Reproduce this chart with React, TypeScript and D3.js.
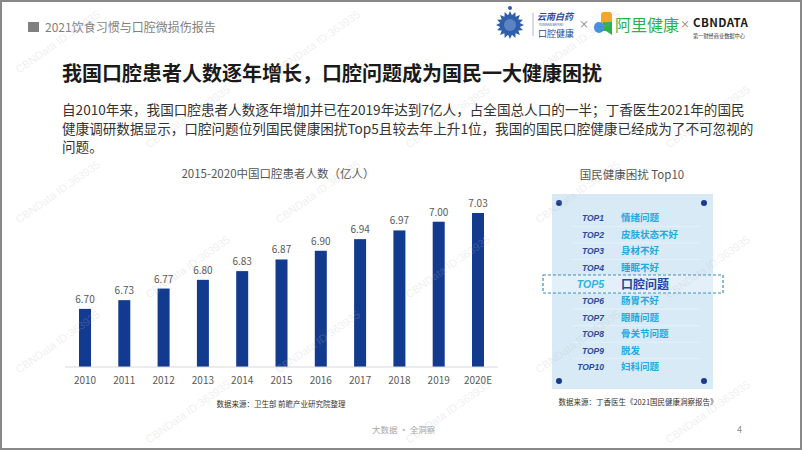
import * as d3 from "d3";

const years = ["2010", "2011", "2012", "2013", "2014", "2015", "2016", "2017", "2018", "2019", "2020E"];
const patients = [6.7, 6.73, 6.77, 6.8, 6.83, 6.87, 6.9, 6.94, 6.97, 7.0, 7.03];

const topRanks = ["TOP1", "TOP2", "TOP3", "TOP4", "TOP5", "TOP6", "TOP7", "TOP8", "TOP9", "TOP10"];
const topIssues = ["情绪问题", "皮肤状态不好", "身材不好", "睡眠不好", "口腔问题", "肠胃不好", "眼睛问题", "骨关节问题", "脱发", "妇科问题"];
const highlightRank = "TOP5";

const paragraph = [
    "自2010年来，我国口腔患者人数逐年增加并已在2019年达到7亿人，占全国总人口的一半；丁香医生2021年的国民",
    "健康调研数据显示，口腔问题位列国民健康困扰Top5且较去年上升1位，我国的国民口腔健康已经成为了不可忽视的",
    "问题。",
];

const W = 802;
const H = 451;
const FONT = "'Noto Sans CJK SC', 'Noto Sans', sans-serif";
const NAVY = "#123a8f";

const App = () => {
    // bar chart scales
    const x = d3.scalePoint().domain(years).range([85, 478]);
    const y = d3.scaleLinear().domain([6.5, 7.03]).range([367, 213]);
    const barW = 12;

    // top10 list
    const rowY = d3.scalePoint().domain(topRanks).range([218, 367]);

    // logo star emblem
    const starPts = d3.range(32).map((i) => {
        const a = (i / 32) * Math.PI * 2;
        const r = i % 2 === 0 ? 14 : 10;
        return [510 + r * Math.cos(a), 25 + r * Math.sin(a)];
    });

    // watermark grid (kept inside the slide)
    const marks: [number, number][] = [];
    [45, 120, 195, 270, 345, 415].forEach((wy, ri) => {
        const xs = ri % 2 === 0 ? [60, 320, 580] : [190, 450, 710];
        xs.forEach((wx) => marks.push([wx, wy]));
    });

    return (
        <div style={{ position: "absolute", left: 0, top: 0 }}>
            <svg width={W} height={H} style={{ display: "block", fontFamily: FONT }}>
                <rect x={0} y={0} width={W} height={H} fill="#fff" />

                {/* header */}
                <rect x={28} y={22} width={11} height={10} fill="#808080" />
                <text x={45} y={31.5} fontSize={12} fill="#7f7f7f">2021饮食习惯与口腔微损伤报告</text>

                {/* logos */}
                <polygon points={starPts.map((p) => p.join(",")).join(" ")} fill="#2f5fa8" />
                <circle cx={510} cy={25} r={6} fill="#5c84c4" />
                <circle cx={510} cy={8} r={2} fill="#2f5fa8" />
                <line x1={533} x2={533} y1={13} y2={36} stroke="#9aa6c0" strokeWidth={0.8} />
                <text x={537} y={19.5} fontSize={9} fill="#2b4b9b" fontWeight="bold" fontStyle="italic">云南白药</text>
                <text x={539} y={25.5} fontSize={3.2} fill="#2b4b9b">YUNNAN BAIYAO</text>
                <text x={538} y={37} fontSize={9} fill="#2b4b9b">口腔健康</text>
                <text x={584} y={28} fontSize={10} fill="#777" textAnchor="middle">×</text>
                <rect x={601} y={12} width={11} height={13} rx={3} fill="#f5a623" />
                <rect x={594} y={22} width={10} height={11} rx={5} fill="#3f8fe0" />
                <path d="M603,22 H612 V35 L606,31 H603 Z" fill="#2fb04d" />
                <text x={615} y={31} fontSize={16} fill="#2bb24c">阿里健康</text>
                <text x={685} y={28} fontSize={10} fill="#777" textAnchor="middle">×</text>
                <text x={693} y={27} fontSize={11.5} fontWeight="bold" fill="#1a1a1a" letterSpacing={0.4}>CBNDATA</text>
                <text x={693} y={38} fontSize={5.2} fill="#333">第一财经商业数据中心</text>

                {/* title & paragraph */}
                <text x={62} y={81} fontSize={20} fontWeight="bold" fill="#1a1a1a">
                    我国口腔患者人数逐年增长，口腔问题成为国民一大健康困扰
                </text>
                {paragraph.map((line, i) => (
                    <text key={i} x={62} y={115 + i * 18.6} fontSize={13.6} fill="#333">{line}</text>
                ))}

                {/* bar chart */}
                <text x={278} y={178} fontSize={11.5} fill="#555" textAnchor="middle">
                    2015-2020中国口腔患者人数（亿人）
                </text>
                {patients.map((v, i) => (
                    <g key={years[i]}>
                        <rect
                            x={x(years[i])! - barW / 2}
                            y={y(v)}
                            width={barW}
                            height={y(6.5) - y(v)}
                            fill={NAVY}
                        />
                        <text x={x(years[i])} y={y(v) - 6} fontSize={10} fill="#595959" textAnchor="middle">
                            {v.toFixed(2)}
                        </text>
                        <text x={x(years[i])} y={384} fontSize={10} fill="#595959" textAnchor="middle">
                            {years[i]}
                        </text>
                    </g>
                ))}
                <line x1={65} x2={498} y1={y(6.5)} y2={y(6.5)} stroke="#d9d9d9" strokeWidth={1} />
                <text x={281} y={407} fontSize={7.5} fill="#333" textAnchor="middle">
                    数据来源：卫生部 前瞻产业研究院整理
                </text>

                {/* top10 panel */}
                <text x={632} y={179} fontSize={11.5} fill="#555" textAnchor="middle">国民健康困扰 Top10</text>
                <rect x={552} y={194} width={161} height={195} fill="#d8eaf6" />
                {topRanks.slice(0, -1).map((r) => (
                    <line key={r} x1={572} x2={700} y1={rowY(r)! + 8.3} y2={rowY(r)! + 8.3} stroke="#fff" strokeOpacity={0.55} strokeWidth={0.7} />
                ))}
                {[[559, 203], [704, 203], [559, 381], [704, 381]].map(([cx, cy], i) => (
                    <circle key={i} cx={cx} cy={cy} r={3} fill="#1b3b8a" />
                ))}
                <rect x={543} y={275} width={180} height={18} fill="#fff" fillOpacity={0.3} stroke="#3d8cc4" strokeWidth={1.2} strokeDasharray="3,2" />
                {topRanks.map((r, i) => {
                    const hi = r === highlightRank;
                    return (
                        <g key={r}>
                            <text
                                x={604}
                                y={rowY(r)! + (hi ? 3.8 : 3.2)}
                                fontSize={hi ? 10.5 : 8.5}
                                fontWeight="bold"
                                fontStyle="italic"
                                fontFamily="'Liberation Sans', Arial, sans-serif"
                                fill={hi ? "#2bb5e0" : "#2c4a9a"}
                                textAnchor="end"
                            >
                                {r}
                            </text>
                            <text
                                x={621}
                                y={rowY(r)! + (hi ? 4.3 : 3.3)}
                                fontSize={hi ? 12 : 9.5}
                                fontWeight="bold"
                                fill={hi ? "#2346a0" : "#1fa9e1"}
                            >
                                {topIssues[i]}
                            </text>
                        </g>
                    );
                })}
                <text x={638} y={405} fontSize={7.5} fill="#333" textAnchor="middle">
                    数据来源：丁香医生《2021国民健康洞察报告》
                </text>

                {/* footer */}
                <text x={372} y={433} fontSize={8.5} fill="#a6a6a6">大数据 · 全洞察</text>
                <text x={737} y={433} fontSize={9} fill="#8c8c8c">4</text>

                {/* watermarks */}
                {marks.map(([mx, my], i) => (
                    <text
                        key={i}
                        x={mx}
                        y={my}
                        fontSize={11}
                        fill="#bbb"
                        fillOpacity={0.25}
                        fontFamily="'Liberation Sans', Arial, sans-serif"
                        textAnchor="middle"
                        transform={`rotate(-35 ${mx} ${my})`}
                    >
                        CBNData ID:363935
                    </text>
                ))}

                {/* frame */}
                <rect x={1} y={1} width={W - 2} height={H - 3} fill="none" stroke="#888" strokeWidth={2} />
            </svg>
        </div>
    );
};

export default App;
